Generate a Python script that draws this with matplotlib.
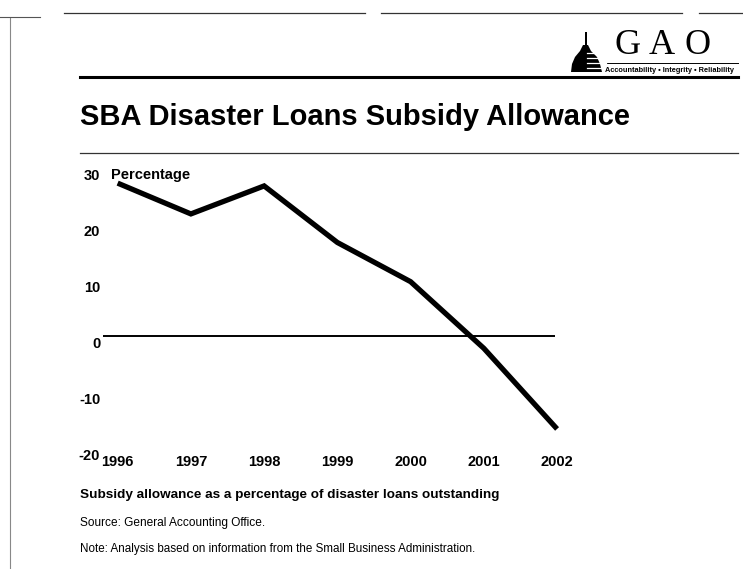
import matplotlib
matplotlib.use("Agg")
import matplotlib.pyplot as plt
import matplotlib.transforms as mtransforms
from matplotlib.patches import Polygon, Rectangle

years = [1996, 1997, 1998, 1999, 2000, 2001, 2002]
allowance_pct = [27.3, 21.8, 26.8, 16.7, 9.7, -2.2, -16.6]
y_ticks = [-20, -10, 0, 10, 20, 30]
y_tick_labels = ["-20", "-10", "0", "10", "20", "30"]
x_tick_labels = ["1996", "1997", "1998", "1999", "2000", "2001", "2002"]

title = "SBA Disaster Loans Subsidy Allowance"
subtitle = "Subsidy allowance as a percentage of disaster loans outstanding"
source = "Source: General Accounting Office."
note = "Note: Analysis based on information from the Small Business Administration."

W, H = 743, 569
fig = plt.figure(figsize=(W / 100, H / 100), dpi=100)
fig.patch.set_facecolor("white")

SANS = ["Liberation Sans", "DejaVu Sans"]
SERIF = ["Liberation Serif", "DejaVu Serif"]


def fx(px):
    return px / W


def fy(py):
    return 1 - py / H


# Decorative page lines (scan frame)
fig.add_artist(plt.Line2D([fx(10), fx(10)], [fy(18), fy(569)], color="#888888", lw=0.8))
fig.add_artist(plt.Line2D([fx(0), fx(40)], [fy(17), fy(17)], color="#555555", lw=0.8))
for a, b in [(64, 365), (381, 682), (699, 743)]:
    fig.add_artist(plt.Line2D([fx(a), fx(b)], [fy(13), fy(13)], color="#333333", lw=0.9))
# thick rule under header
fig.add_artist(plt.Line2D([fx(80), fx(738)], [fy(77), fy(77)], color="black", lw=2.2))
# thin rule under title
fig.add_artist(plt.Line2D([fx(80), fx(738)], [fy(153), fy(153)], color="#333333", lw=0.9))

# GAO logo
for letter, xp in [("G", 628), ("A", 662), ("O", 698)]:
    fig.text(fx(xp), fy(46), letter, fontsize=26, family=SERIF,
             ha="center", va="center", color="black")
fig.add_artist(plt.Line2D([fx(606), fx(738)], [fy(63), fy(63)], color="black", lw=0.7))
fig.text(fx(734), fy(70), "Accountability \u2022 Integrity \u2022 Reliability", fontsize=5.3,
         family=SANS, weight="bold", ha="right", va="center")
# dome icon
dome = Polygon([(fx(571), fy(72)), (fx(572), fy(64)), (fx(575), fy(57)), (fx(580), fy(51)),
                (fx(583), fy(45)), (fx(588), fy(45)), (fx(591), fy(51)), (fx(597), fy(57)),
                (fx(600), fy(64)), (fx(602), fy(72))], closed=True,
               transform=fig.transFigure, facecolor="black", edgecolor="none")
fig.add_artist(dome)
fig.add_artist(Rectangle((fx(584.5), fy(45)), fx(2), fy(32) - fy(45), transform=fig.transFigure,
                         facecolor="black", edgecolor="none"))
for yy in [53, 58, 63, 68]:
    fig.add_artist(plt.Line2D([fx(587), fx(606)], [fy(yy), fy(yy)], color="white", lw=0.9))

# Title
fig.text(fx(80), fy(117), title, fontsize=21, weight="bold", family=SANS,
         ha="left", va="center")

# Axes
left_px, right_px = 103, 560
top_px, bot_px = 168, 448
ax = fig.add_axes([fx(left_px), fy(bot_px), fx(right_px) - fx(left_px), fy(top_px) - fy(bot_px)])
ax.set_xlim(1995.8, 2002.04)
ax.set_ylim(-20, 30)
for s in ax.spines.values():
    s.set_visible(False)

ax.plot([1995.8, 2001.97], [0, 0], color="black", lw=1.4, solid_capstyle="butt")
ax.plot(years, allowance_pct, color="black", lw=3.8, solid_capstyle="butt",
        solid_joinstyle="miter")

ax.set_yticks(y_ticks)
ax.set_yticklabels(y_tick_labels, fontsize=10.5, weight="bold", family=SANS)
ax.set_xticks(years)
ax.set_xticklabels(x_tick_labels, fontsize=10.5, weight="bold", family=SANS)
ax.tick_params(axis="both", length=0)
ax.tick_params(axis="y", pad=2)
ax.tick_params(axis="x", pad=5)
off = mtransforms.ScaledTranslation(0, -7 / 100, fig.dpi_scale_trans)
for lab in ax.get_yticklabels():
    lab.set_transform(lab.get_transform() + off)

ax.text(0.018, 30, "Percentage", transform=ax.get_yaxis_transform() + off,
        fontsize=10.5, weight="bold", family=SANS, ha="left", va="center")

# Footer text
fig.text(fx(80), fy(495), subtitle, fontsize=9.7, weight="bold", family=SANS,
         ha="left", va="center")
fig.text(fx(80), fy(523), source, fontsize=8.6, family=SANS, ha="left", va="center")
fig.text(fx(80), fy(549), note, fontsize=8.4, family=SANS, ha="left", va="center")

fig.savefig("out.png", dpi=100, facecolor="white")
